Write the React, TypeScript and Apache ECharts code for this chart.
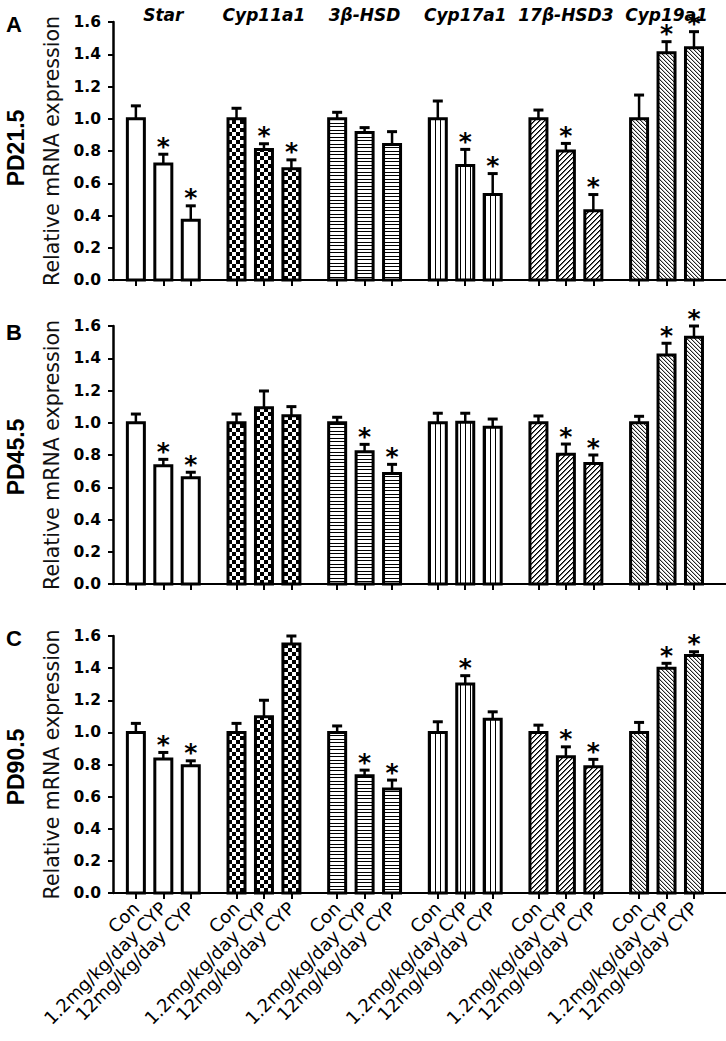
import React, { useEffect, useRef } from 'react';
import * as echarts from 'echarts';

const genes = ['Star', 'Cyp11a1', '3β-HSD', 'Cyp17a1', '17β-HSD3', 'Cyp19a1'];
const groups = ['Con', '1.2mg/kg/day CYP', '12mg/kg/day CYP'];
const panelLetters = ['A', 'B', 'C'];
const panelNames = ['PD21.5', 'PD45.5', 'PD90.5'];
const yAxisName = 'Relative mRNA expression';

// Panel A (PD21.5)
const meanA = [1.0, 0.72, 0.37, 1.0, 0.81, 0.69, 1.0, 0.915, 0.84, 1.0, 0.71, 0.53, 1.0, 0.8, 0.43, 1.0, 1.41, 1.44];
const errA = [0.08, 0.06, 0.09, 0.065, 0.035, 0.055, 0.04, 0.03, 0.08, 0.11, 0.1, 0.13, 0.054, 0.047, 0.1, 0.147, 0.068, 0.1];
const sigA = [0, 1, 1, 0, 1, 1, 0, 0, 0, 0, 1, 1, 0, 1, 1, 0, 1, 1];
// Panel B (PD45.5)
const meanB = [1.0, 0.734, 0.659, 1.0, 1.093, 1.044, 1.0, 0.82, 0.686, 1.0, 1.003, 0.972, 1.0, 0.804, 0.748, 1.0, 1.42, 1.53];
const errB = [0.054, 0.039, 0.034, 0.054, 0.104, 0.056, 0.034, 0.046, 0.056, 0.059, 0.056, 0.051, 0.042, 0.064, 0.052, 0.04, 0.073, 0.07];
const sigB = [0, 1, 1, 0, 0, 0, 0, 1, 1, 0, 0, 0, 0, 1, 1, 0, 1, 1];
// Panel C (PD90.5)
const meanC = [1.0, 0.834, 0.792, 1.0, 1.097, 1.55, 1.0, 0.73, 0.647, 1.0, 1.301, 1.081, 1.0, 0.848, 0.786, 1.0, 1.399, 1.478];
const errC = [0.056, 0.041, 0.031, 0.056, 0.103, 0.05, 0.04, 0.035, 0.056, 0.066, 0.052, 0.047, 0.045, 0.062, 0.046, 0.062, 0.031, 0.024];
const sigC = [0, 1, 1, 0, 0, 0, 0, 1, 1, 0, 1, 0, 0, 1, 1, 0, 1, 1];

const panelMeans = [meanA, meanB, meanC];
const panelErrs = [errA, errB, errC];
const panelSigs = [sigA, sigB, sigC];

// layout of category slots (fine slots so groups have gaps)
const SLOTS = 67;
const slotOf = (g: number, j: number) => 2 + 11 * g + 3 * j;

const ARIAL = 'Arial, "Liberation Sans", sans-serif';
const WIDE = '"DejaVu Sans", Verdana, sans-serif';

function makePattern(w: number, h: number, draw: (ctx: CanvasRenderingContext2D) => void): any {
  const c = document.createElement('canvas');
  c.width = w;
  c.height = h;
  const ctx = c.getContext('2d')!;
  ctx.fillStyle = '#fff';
  ctx.fillRect(0, 0, w, h);
  draw(ctx);
  return { image: c, repeat: 'repeat', imageWidth: w, imageHeight: h };
}

export default function App() {
  const ref = useRef<HTMLDivElement>(null);
  useEffect(() => {
    if (!ref.current) return;
    const chart = echarts.init(ref.current, undefined, { renderer: 'svg' });

    const patterns: any[] = [
      '#ffffff',
      makePattern(8, 8, (ctx) => {
        ctx.fillStyle = '#000';
        ctx.fillRect(0, 0, 4, 4);
        ctx.fillRect(4, 4, 4, 4);
      }),
      makePattern(4, 7, (ctx) => {
        ctx.fillStyle = '#000';
        ctx.fillRect(0, 0, 4, 1);
        ctx.fillRect(0, 4, 4, 1);
      }),
      makePattern(5, 4, (ctx) => {
        ctx.fillStyle = '#000';
        ctx.fillRect(0, 0, 1, 4);
      }),
      makePattern(5, 5, (ctx) => {
        ctx.fillStyle = '#000';
        for (let y = 0; y < 5; y++) {
          ctx.fillRect(4 - y, y, 1, 1);
        }
        ctx.fillStyle = '#666';
        for (let y = 0; y < 5; y++) {
          ctx.fillRect((5 - y) % 5, y, 1, 1);
        }
      }),
      makePattern(4, 4, (ctx) => {
        for (let y = 0; y < 4; y++) {
          ctx.fillStyle = '#222';
          ctx.fillRect(y, y, 1, 1);
          ctx.fillStyle = '#bbb';
          ctx.fillRect((y + 1) % 4, y, 1, 1);
        }
      }),
    ];

    const slotIds: string[] = [];
    const isBar: boolean[] = [];
    const barLabel: string[] = [];
    const isCenter: boolean[] = [];
    const centerLabel: string[] = [];
    for (let i = 0; i < SLOTS; i++) {
      slotIds.push('s' + i);
      isBar.push(false);
      barLabel.push('');
      isCenter.push(false);
      centerLabel.push('');
    }
    genes.forEach((gName, g) => {
      groups.forEach((lab, j) => {
        const s = slotOf(g, j);
        isBar[s] = true;
        barLabel[s] = lab;
      });
      const c = slotOf(g, 1);
      isCenter[c] = true;
      centerLabel[c] = gName;
    });

    const gridTops = [22, 326, 636];
    const gridHeights = [258, 258, 257];

    const renderBar = (params: any, api: any) => {
      const slot = api.value(0);
      const v = api.value(1);
      const e = api.value(2);
      const sig = api.value(3);
      const pat = api.value(4);
      const base = api.coord([slot, 0]);
      const top = api.coord([slot, v]);
      const et = api.coord([slot, v + e]);
      const cx = base[0];
      const bw = 17;
      const children: any[] = [
        { type: 'line', shape: { x1: cx, y1: top[1], x2: cx, y2: et[1] }, style: { stroke: '#000', lineWidth: 2.5 } },
        { type: 'line', shape: { x1: cx - 5, y1: et[1], x2: cx + 5, y2: et[1] }, style: { stroke: '#000', lineWidth: 3 } },
        {
          type: 'rect',
          shape: { x: cx - bw / 2, y: top[1], width: bw, height: base[1] - top[1] },
          style: { fill: patterns[pat], stroke: '#000', lineWidth: 3 },
        },
      ];
      if (sig) {
        children.push({
          type: 'text',
          x: cx,
          y: et[1] - 8,
          style: {
            text: '*',
            fontSize: 25,
            fontWeight: 'bold',
            fontFamily: WIDE,
            fill: '#000',
            align: 'center',
            verticalAlign: 'middle',
          },
        });
      }
      return { type: 'group', children };
    };

    const grids: any[] = [];
    const xAxes: any[] = [];
    const yAxes: any[] = [];
    const series: any[] = [];
    const graphics: any[] = [];

    for (let k = 0; k < 3; k++) {
      grids.push({ left: 113, width: 613, top: gridTops[k], height: gridHeights[k] });
      xAxes.push({
        type: 'category',
        gridIndex: k,
        data: slotIds,
        boundaryGap: true,
        axisLine: { show: true, lineStyle: { color: '#000', width: 2 } },
        axisTick: {
          show: true,
          alignWithLabel: true,
          interval: (i: number) => isBar[i],
          length: 6,
          lineStyle: { color: '#000', width: 2 },
        },
        axisLabel:
          k === 2
            ? {
                show: true,
                interval: (i: number) => isBar[i],
                formatter: (_v: string, i: number) => barLabel[i],
                rotate: 45,
                margin: 12,
                fontFamily: WIDE,
                fontSize: 18,
                color: '#000',
              }
            : { show: false },
        splitLine: { show: false },
      });
      yAxes.push({
        type: 'value',
        gridIndex: k,
        min: 0,
        max: 1.6,
        interval: 0.2,
        axisLine: { show: true, lineStyle: { color: '#000', width: 2.5 } },
        axisTick: { show: true, length: 5, lineStyle: { color: '#000', width: 2 } },
        axisLabel: {
          formatter: (v: number) => v.toFixed(1),
          fontFamily: WIDE,
          fontWeight: 'bold',
          fontSize: 15.5,
          color: '#000',
          margin: 12,
        },
        splitLine: { show: false },
        name: yAxisName,
        nameLocation: 'middle',
        nameGap: 44,
        nameTextStyle: { fontFamily: WIDE, fontSize: 20.5, color: '#111' },
      });
      const data: any[] = [];
      genes.forEach((_g, g) => {
        groups.forEach((_l, j) => {
          const idx = g * 3 + j;
          data.push([slotOf(g, j), panelMeans[k][idx], panelErrs[k][idx], panelSigs[k][idx], g]);
        });
      });
      series.push({
        type: 'custom',
        xAxisIndex: k,
        yAxisIndex: k,
        renderItem: renderBar,
        encode: { x: 0, y: 1 },
        data,
        clip: false,
      });
    }

    // gene titles on top of panel A
    xAxes.push({
      type: 'category',
      gridIndex: 0,
      position: 'top',
      data: slotIds,
      boundaryGap: true,
      axisLine: { show: false },
      axisTick: { show: false },
      splitLine: { show: false },
      axisLabel: {
        show: true,
        interval: (i: number) => isCenter[i],
        formatter: (_v: string, i: number) => centerLabel[i],
        margin: -1,
        fontFamily: WIDE,
        fontWeight: 'bold',
        fontStyle: 'italic',
        fontSize: 17,
        color: '#000',
      },
    });

    const letterY = [24, 332, 638];
    const nameY = [148, 457, 767];
    for (let k = 0; k < 3; k++) {
      graphics.push({
        type: 'text',
        x: 14,
        y: letterY[k],
        style: {
          text: panelLetters[k],
          fontFamily: ARIAL,
          fontWeight: 'bold',
          fontSize: 22,
          fill: '#000',
          align: 'center',
          verticalAlign: 'middle',
        },
      });
      graphics.push({
        type: 'text',
        x: 16,
        y: nameY[k],
        rotation: Math.PI / 2,
        style: {
          text: panelNames[k],
          fontFamily: ARIAL,
          fontWeight: 'bold',
          fontSize: 23,
          fill: '#000',
          align: 'center',
          verticalAlign: 'middle',
        },
      });
    }

    chart.setOption({
      animation: false,
      backgroundColor: '#fff',
      grid: grids,
      xAxis: xAxes,
      yAxis: yAxes,
      series,
      graphic: graphics,
    });
    return () => chart.dispose();
  }, []);
  return <div ref={ref} style={{ position: 'absolute', left: 0, top: 0, width: 726, height: 1041 }} />;
}
